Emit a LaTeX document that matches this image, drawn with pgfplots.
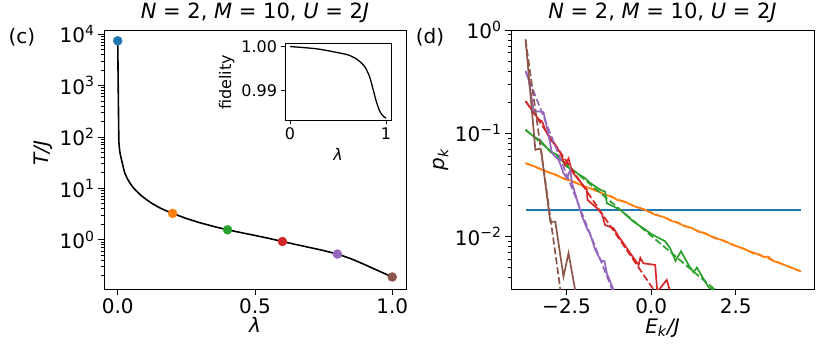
\documentclass[border=0pt]{standalone}
\usepackage{fontspec}
\setmainfont{DejaVu Sans}
\usepackage{pgfplots}
\pgfplotsset{compat=1.18}
\definecolor{tabblue}{HTML}{1F77B4}
\definecolor{taborange}{HTML}{FF7F0E}
\definecolor{tabgreen}{HTML}{2CA02C}
\definecolor{tabred}{HTML}{D62728}
\definecolor{tabpurple}{HTML}{9467BD}
\definecolor{tabbrown}{HTML}{8C564B}
\newcommand{\bigf}{\fontsize{20}{24}\selectfont}
\newcommand{\titf}{\fontsize{21}{25}\selectfont}
\newcommand{\smf}{\fontsize{16}{19}\selectfont}
\begin{document}
\begin{tikzpicture}
\path[use as bounding box] (0pt,0pt) rectangle (822pt,350pt);
\pgfplotsset{
  every axis/.append style={scale only axis, tick pos=left, tick align=outside,
    major tick length=6pt, minor tick length=3.5pt,
    axis line style={line width=0.9pt},
    every tick/.style={black, line width=0.9pt},
    tick label style={font=\bigf}, label style={font=\bigf}, title style={font=\titf}},
}
% ---------------- left panel
\begin{axis}[at={(104pt,61pt)}, anchor=south west, width=302pt, height=259pt,
  xmin=-0.05, xmax=1.05, ymode=log, ymin=0.111, ymax=12000,
  xtick={0,0.5,1}, xticklabels={0.0,0.5,1.0},
  ytick={1,10,100,1000,10000},
  yticklabels={10\textsuperscript{0},10\textsuperscript{1},10\textsuperscript{2},10\textsuperscript{3},10\textsuperscript{4}},
  minor ytick={0.2,0.3,0.4,0.5,0.6,0.7,0.8,0.9,2,3,4,5,6,7,8,9,20,30,40,50,60,70,80,90,200,300,400,500,600,700,800,900,2000,3000,4000,5000,6000,7000,8000,9000},
  title={\textit{N} = 2, \textit{M} = 10, \textit{U} = 2\textit{J}},
  title style={at={(axis description cs:0.5,1.022)}, anchor=base},
  xlabel={\textit{λ}}, xlabel style={at={(axis description cs:0.5,-0.14)}, anchor=center},
  ylabel={\textit{T/J}}, ylabel style={at={(axis description cs:-0.20,0.525)}, anchor=center},
]
\addplot[black, line width=1.6pt] coordinates {
(0,7400) (0.004,80) (0.007,55) (0.01,44) (0.0133,37) (0.02,26) (0.0255,20) (0.035,15.5)
(0.0437,12.9) (0.055,10.6) (0.068,8.9) (0.085,7.3) (0.104,6.1) (0.125,5.1) (0.153,4.2)
(0.175,3.7) (0.2,3.28) (0.25,2.6) (0.3,2.15) (0.35,1.82) (0.4,1.57) (0.45,1.38) (0.5,1.22)
(0.55,1.07) (0.6,0.93) (0.65,0.81) (0.7,0.71) (0.75,0.62) (0.8,0.53) (0.85,0.43)
(0.9,0.33) (0.95,0.25) (1.0,0.19)};
\addplot[only marks, mark=*, mark size=4.5pt, color=tabblue] coordinates {(0,7400)};
\addplot[only marks, mark=*, mark size=4.5pt, color=taborange] coordinates {(0.2,3.28)};
\addplot[only marks, mark=*, mark size=4.5pt, color=tabgreen] coordinates {(0.4,1.57)};
\addplot[only marks, mark=*, mark size=4.5pt, color=tabred] coordinates {(0.6,0.93)};
\addplot[only marks, mark=*, mark size=4.5pt, color=tabpurple] coordinates {(0.8,0.53)};
\addplot[only marks, mark=*, mark size=4.5pt, color=tabbrown] coordinates {(1.0,0.19)};
\end{axis}
% ---------------- inset
\begin{axis}[at={(285pt,230pt)}, anchor=south west, width=106pt, height=77pt,
  xmin=-0.052, xmax=1.052, ymin=0.9834, ymax=1.0008,
  xtick={0,1}, xticklabels={0,1}, ytick={0.99,1.0}, yticklabels={0.99,1.00},
  major tick length=4.5pt,
  tick label style={font=\smf}, label style={font=\smf},
  xlabel={\textit{λ}}, xlabel style={at={(axis description cs:0.5,-0.45)}, anchor=center},
  ylabel={fidelity}, ylabel style={at={(axis description cs:-0.55,0.49)}, anchor=center},
]
\addplot[black, line width=1.3pt, smooth] coordinates {
(0,1.0000) (0.27,0.9995) (0.48,0.9987) (0.62,0.9980) (0.71,0.9969) (0.78,0.9954)
(0.83,0.9931) (0.867,0.9902) (0.90,0.9875) (0.937,0.9853) (0.97,0.9843) (1.0,0.9838)};
\end{axis}
% ---------------- right panel
\begin{axis}[at={(511pt,61pt)}, anchor=south west, width=303pt, height=259pt,
  xmin=-4.14, xmax=4.81, ymode=log, ymin=0.0031, ymax=1,
  xtick={-2.5,0,2.5}, xticklabels={−2.5,0.0,2.5},
  ytick={0.01,0.1,1},
  yticklabels={10\textsuperscript{−2},10\textsuperscript{−1},10\textsuperscript{0}},
  minor ytick={0.004,0.005,0.006,0.007,0.008,0.009,0.02,0.03,0.04,0.05,0.06,0.07,0.08,0.09,0.2,0.3,0.4,0.5,0.6,0.7,0.8,0.9},
  title={\textit{N} = 2, \textit{M} = 10, \textit{U} = 2\textit{J}},
  title style={at={(axis description cs:0.5,1.022)}, anchor=base},
  xlabel={\textit{E}\textsubscript{\textit{k}}\textit{/J}}, xlabel style={at={(axis description cs:0.5,-0.15)}, anchor=center},
  ylabel={\textit{p}\textsubscript{\textit{k}}}, ylabel style={at={(axis description cs:-0.23,0.50)}, anchor=center},
]
% blue
\addplot[draw=tabblue, line width=1.8pt] coordinates {(-3.71,0.0182) (-2.0,0.0182) (0,0.0182) (2.0,0.0182) (4.42,0.0182)};
% orange
\addplot[draw=taborange, line width=1.7pt] coordinates {
(-3.71,0.0513) (-3.40,0.0472) (-3.15,0.0430) (-2.85,0.0401) (-2.56,0.0360) (-2.30,0.0342)
(-1.97,0.0303) (-1.75,0.0291) (-1.57,0.0275) (-1.40,0.0255) (-1.18,0.0245) (-1.00,0.0226)
(-0.79,0.0218) (-0.50,0.0196) (-0.20,0.0183) (0.10,0.0163) (0.39,0.0154) (0.60,0.0141)
(0.75,0.0138) (0.98,0.0126) (1.20,0.0121) (1.40,0.0111) (1.57,0.0109) (1.85,0.0097)
(2.16,0.0091) (2.40,0.0083) (2.75,0.0076) (3.00,0.0069) (3.20,0.0067) (3.34,0.0063)
(3.46,0.0064) (3.60,0.0058) (3.74,0.0056) (4.00,0.0052) (4.20,0.0049) (4.42,0.0046)};
\addplot[draw=taborange, line width=1.7pt, dash pattern=on 7pt off 3pt] coordinates {(-3.71,0.0513) (4.42,0.0046)};
% green
\addplot[draw=tabgreen, line width=1.7pt] coordinates {
(-3.71,0.108) (-3.47,0.093) (-3.27,0.085) (-2.98,0.066) (-2.78,0.062) (-2.49,0.0475)
(-2.19,0.041) (-1.95,0.0367) (-1.80,0.033) (-1.50,0.0283) (-1.36,0.0272) (-1.31,0.021)
(-0.91,0.0181) (-0.52,0.0139) (-0.23,0.0120) (0.02,0.0105) (0.41,0.0090) (0.56,0.0077)
(0.72,0.0058) (0.88,0.0072) (1.12,0.0052) (1.25,0.0045) (1.35,0.0050) (1.70,0.0032)
(1.80,0.0031) (1.92,0.0029)};
\addplot[draw=tabgreen, line width=1.7pt, dash pattern=on 7pt off 3pt] coordinates {(-3.71,0.108) (2.2,0.0025)};
% red
\addplot[draw=tabred, line width=1.7pt] coordinates {
(-3.71,0.205) (-3.47,0.158) (-3.32,0.136) (-3.22,0.130) (-3.13,0.108) (-2.98,0.087)
(-2.83,0.077) (-2.68,0.064) (-2.54,0.049) (-2.44,0.057) (-2.34,0.0426) (-2.14,0.0353)
(-1.90,0.0283) (-1.88,0.0226) (-1.60,0.0188) (-1.45,0.0165) (-1.36,0.0129) (-1.11,0.0120)
(-0.96,0.0100) (-0.82,0.0086) (-0.52,0.0062) (-0.37,0.0053) (-0.32,0.0062) (-0.23,0.0055)
(0.12,0.0053) (0.18,0.0029) (0.46,0.0038) (0.58,0.0028)};
\addplot[draw=tabred, line width=1.7pt, dash pattern=on 7pt off 3pt] coordinates {(-3.71,0.205) (0.5,0.0019)};
% purple
\addplot[draw=tabpurple, line width=1.7pt] coordinates {
(-3.71,0.40) (-3.62,0.33) (-3.47,0.165) (-3.18,0.160) (-3.03,0.096) (-2.93,0.064)
(-2.73,0.055) (-2.59,0.041) (-2.49,0.0367) (-2.39,0.044)
(-2.34,0.033) (-2.04,0.0156) (-1.90,0.0120) (-1.80,0.0105) (-1.65,0.0074) (-1.48,0.0058)
(-1.38,0.0058) (-1.31,0.0044) (-1.10,0.0030)};
\addplot[draw=tabpurple, line width=1.7pt, dash pattern=on 7pt off 3pt] coordinates {(-3.71,0.40) (-0.9,0.0019)};
% brown
\addplot[draw=tabbrown, line width=1.7pt] coordinates {
(-3.71,0.81) (-3.42,0.069) (-3.30,0.071) (-3.25,0.068) (-2.98,0.0139) (-2.83,0.0139)
(-2.59,0.0041) (-2.44,0.0069) (-2.20,0.0025)};
\addplot[draw=tabbrown, line width=1.7pt, dash pattern=on 7pt off 3pt] coordinates {(-3.71,0.81) (-2.55,0.0015)};
\end{axis}
\node[font=\bigf] at (22pt,313pt) {(c)};
\node[font=\bigf] at (430pt,313pt) {(d)};
\end{tikzpicture}
\end{document}
